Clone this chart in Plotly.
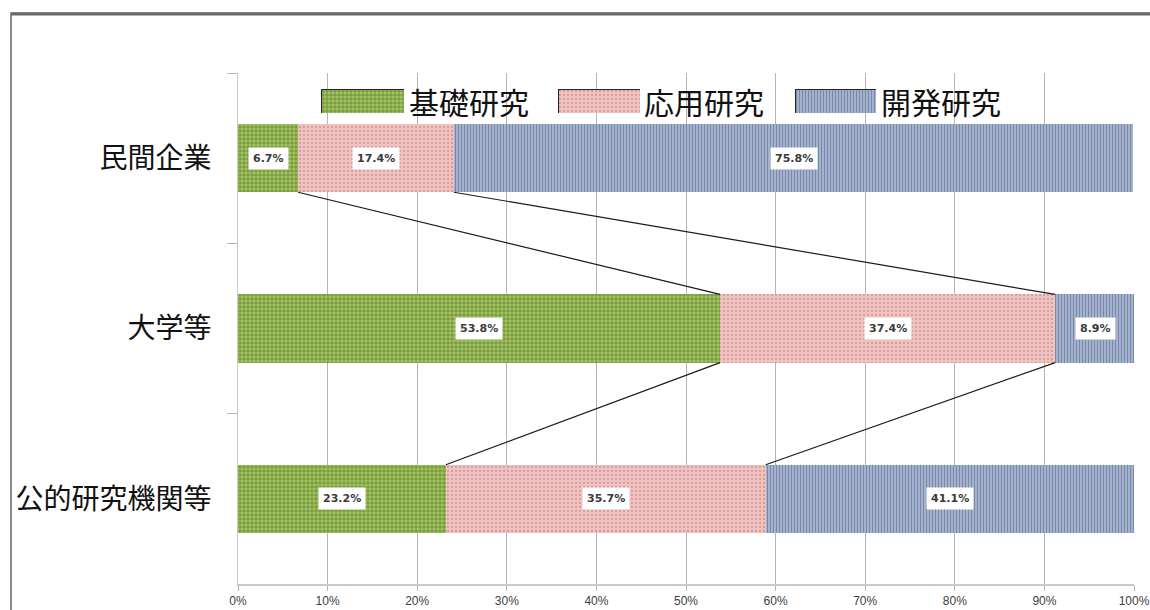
import plotly.graph_objects as go

# Share of R&D expenditure by research type, per sector (%)
categories = ["民間企業", "大学等", "公的研究機関等"]
series_names = ["基礎研究", "応用研究", "開発研究"]
basic = [6.7, 53.8, 23.2]
applied = [17.4, 37.4, 35.7]
development = [75.8, 8.9, 41.1]
x_tick_vals = [0, 10, 20, 30, 40, 50, 60, 70, 80, 90, 100]
x_tick_text = ["0%", "10%", "20%", "30%", "40%", "50%", "60%", "70%", "80%", "90%", "100%"]

series_values = [basic, applied, development]
patterns = [
    dict(shape="+", bgcolor="#a2c45e", fgcolor="#2a4510", size=4, solidity=0.35),
    dict(shape=".", bgcolor="#eec4c3", fgcolor="#c46b6a", size=4, solidity=0.25),
    dict(shape="|", bgcolor="#b7c5dc", fgcolor="#394e7b", size=3, solidity=0.55),
]

BAR_WIDTH = 0.4
PLOT_L, PLOT_R, PLOT_T, PLOT_B = 238, 1134, 73, 584
W, H = 1150, 610


def px_x(p):
    return (p - PLOT_L) / (PLOT_R - PLOT_L)


def px_y(p):
    return (PLOT_B - p) / (PLOT_B - PLOT_T)


fig = go.Figure()

for name, vals, pat in zip(series_names, series_values, patterns):
    fig.add_trace(go.Bar(
        y=categories, x=vals, name=name, orientation="h",
        width=BAR_WIDTH,
        marker=dict(color=pat["bgcolor"], pattern=pat, line=dict(width=0)),
        showlegend=False, hoverinfo="x+y",
    ))

annotations = []
shapes = []

# value labels in white boxes at the middle of each segment
for i in range(len(categories)):
    start = 0.0
    for vals in series_values:
        v = vals[i]
        annotations.append(dict(
            x=start + v / 2, y=i, xref="x", yref="y", text=f"{v}%",
            showarrow=False, bgcolor="white", borderpad=4,
            font=dict(family="DejaVu Sans", size=11, color="#3a3a3a", weight="bold"),
        ))
        start += v

# series lines joining segment boundaries between neighbouring bars
for i in range(len(categories) - 1):
    cum_a = 0.0
    cum_b = 0.0
    for vals in series_values[:-1]:
        cum_a += vals[i]
        cum_b += vals[i + 1]
        shapes.append(dict(
            type="line", xref="x", yref="y",
            x0=cum_a, y0=i + BAR_WIDTH / 2, x1=cum_b, y1=i + 1 - BAR_WIDTH / 2,
            line=dict(color="#1a1a1a", width=1.2), layer="above",
        ))

# outer frame of the chart
shapes.append(dict(type="rect", xref="paper", yref="paper",
                   x0=px_x(11), y0=px_y(640), x1=px_x(1190), y1=px_y(13),
                   line=dict(color="#3a3a3a", width=1.2), layer="below"))
shapes.append(dict(type="line", xref="paper", yref="paper",
                   x0=px_x(11), y0=px_y(14), x1=px_x(1190), y1=px_y(14),
                   line=dict(color="#6a6a6a", width=3), layer="below"))

# legend keys: one small bar per series in its own mini subplot
key_boxes = [(321, 404), (558, 640), (795, 876)]
label_starts = [407, 642, 879]
key_top, key_bottom = 89, 113
layout_axes = {}
for k, (name, pat, (bx0, bx1), lx) in enumerate(zip(series_names, patterns, key_boxes, label_starts)):
    n = k + 2
    fig.add_trace(go.Bar(
        x=[1], y=[0], orientation="h", width=1, name=name,
        xaxis=f"x{n}", yaxis=f"y{n}",
        marker=dict(color=pat["bgcolor"], pattern=pat, line=dict(color="#262626", width=1)),
        showlegend=False, hoverinfo="skip",
    ))
    layout_axes[f"xaxis{n}"] = dict(domain=[px_x(bx0), px_x(bx1)], range=[0, 1], anchor=f"y{n}",
                                    visible=False, fixedrange=True, automargin=False)
    layout_axes[f"yaxis{n}"] = dict(domain=[px_y(key_bottom), px_y(key_top)], range=[-0.5, 0.5],
                                    anchor=f"x{n}", visible=False, fixedrange=True, automargin=False)
    annotations.append(dict(
        x=px_x(lx), y=px_y((key_top + key_bottom) / 2), xref="paper", yref="paper",
        xanchor="left", yanchor="middle", text=name, showarrow=False,
        font=dict(family="Noto Sans CJK JP", size=30, color="#111111"),
    ))

fig.update_layout(
    width=W, height=H,
    margin=dict(l=PLOT_L, r=W - PLOT_R, t=PLOT_T, b=H - PLOT_B, autoexpand=False),
    paper_bgcolor="white", plot_bgcolor="white",
    barmode="stack", bargap=0.6,
    showlegend=False,
    annotations=annotations, shapes=shapes,
    xaxis=dict(
        range=[0, 100], tickvals=x_tick_vals, ticktext=x_tick_text,
        showgrid=True, gridcolor="#b5b5b5", gridwidth=1,
        showline=True, linecolor="#c8c8c8", linewidth=2,
        ticks="outside", ticklen=5, tickcolor="#b5b5b5",
        tickfont=dict(family="Liberation Sans Narrow, Liberation Sans", size=12, color="#404040"),
        zeroline=False, fixedrange=True, automargin=False,
    ),
    yaxis=dict(
        type="category", categoryorder="array", categoryarray=categories,
        autorange="reversed", tickson="boundaries",
        showgrid=False, showline=True, linecolor="#c8c8c8", linewidth=1,
        ticks="outside", ticklen=10, tickcolor="#b5b5b5",
        tickfont=dict(family="Noto Sans CJK JP", size=28, color="#111111"),
        ticklabelstandoff=20, fixedrange=True, automargin=False,
    ),
    **layout_axes,
)

fig.write_html("out.html")
